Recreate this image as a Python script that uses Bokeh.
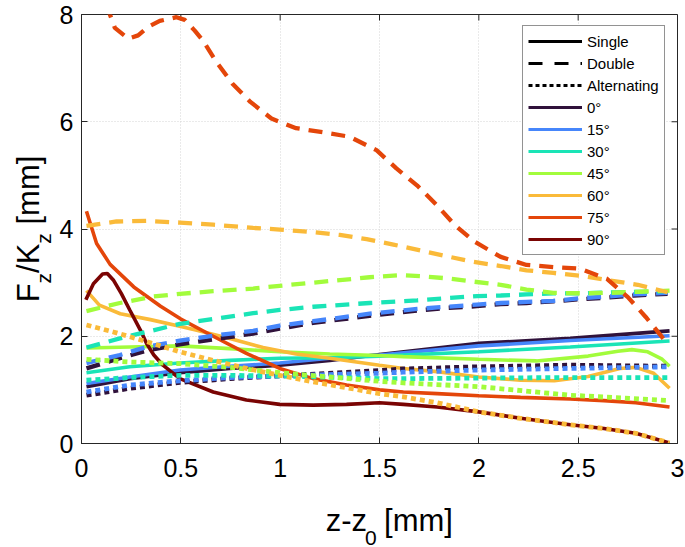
import math
from bokeh.plotting import figure
from bokeh.layouts import row, column
from bokeh.models import Range1d, FixedTicker, Legend, LegendItem
from bokeh.core.properties import value
from bokeh.embed import file_html
from bokeh.resources import INLINE

# ---------------- data ----------------
angles = ["0°", "15°", "30°", "45°", "60°", "75°", "90°"]
colors = ["#30123B", "#4686FB", "#1AE4B6", "#A2FC3C", "#FABA39", "#E4460A", "#7A0403"]
styles = ["Single", "Double", "Alternating"]

x_ticks = [0, 0.5, 1, 1.5, 2, 2.5, 3]
x_tick_labels = ["0", "0.5", "1", "1.5", "2", "2.5", "3"]
y_ticks = [0, 2, 4, 6, 8]
y_tick_labels = ["0", "2", "4", "6", "8"]

# Single (solid)
single_x_low = [0.025, 0.243, 0.495, 0.747, 0.998, 1.25, 1.50, 2.0, 2.46, 2.96]
single_0_y = [1.06, 1.21, 1.32, 1.40, 1.46, 1.55, 1.66, 1.87, 1.96, 2.10]
single_15_y = [1.12, 1.24, 1.37, 1.44, 1.50, 1.59, 1.65, 1.82, 1.92, 2.01]
single_30_y = [1.32, 1.43, 1.50, 1.55, 1.59, 1.60, 1.63, 1.71, 1.80, 1.91]
single_45_x = [0.025, 0.243, 0.495, 0.747, 0.998, 1.25, 1.50, 1.62, 2.0, 2.29, 2.55, 2.70, 2.77, 2.85, 2.92, 2.96]
single_45_y = [1.78, 1.80, 1.82, 1.77, 1.71, 1.67, 1.64, 1.62, 1.57, 1.54, 1.63, 1.72, 1.75, 1.71, 1.58, 1.44]
single_60_x = [0.025, 0.09, 0.195, 0.347, 0.5, 0.58, 0.747, 0.914, 1.08, 1.25, 1.50, 1.62, 1.79, 2.0, 2.21, 2.38, 2.55, 2.71, 2.79, 2.88, 2.96]
single_60_y = [2.85, 2.58, 2.42, 2.31, 2.18, 2.11, 1.96, 1.79, 1.67, 1.59, 1.46, 1.40, 1.34, 1.24, 1.18, 1.17, 1.25, 1.40, 1.42, 1.31, 1.03]
single_75_x = [0.025, 0.076, 0.144, 0.263, 0.398, 0.5, 0.663, 0.83, 0.998, 1.166, 1.334, 1.50, 1.62, 1.79, 2.0, 2.21, 2.46, 2.63, 2.79, 2.96]
single_75_y = [4.33, 3.73, 3.34, 2.92, 2.56, 2.32, 2.00, 1.68, 1.40, 1.21, 1.09, 1.00, 0.96, 0.93, 0.89, 0.86, 0.83, 0.80, 0.76, 0.68]
single_90_x = [0.022, 0.06, 0.106, 0.13, 0.16, 0.2, 0.243, 0.297, 0.327, 0.364, 0.41, 0.495, 0.663, 0.83, 0.998, 1.166, 1.334, 1.50, 1.62, 1.79, 2.0, 2.21, 2.46, 2.63, 2.79, 2.96]
single_90_y = [2.68, 2.98, 3.16, 3.17, 3.05, 2.80, 2.49, 2.11, 1.87, 1.65, 1.46, 1.21, 0.96, 0.81, 0.73, 0.715, 0.73, 0.76, 0.73, 0.68, 0.59, 0.47, 0.35, 0.28, 0.19, 0.01]

# Double (dashed)
double_x_low = [0.025, 0.193, 0.327, 0.495, 0.663, 0.864, 0.998, 1.166, 1.45, 1.69, 1.84, 1.99, 2.11, 2.24, 2.375, 2.51, 2.645, 2.78, 2.95]
double_0_y = [1.40, 1.59, 1.73, 1.85, 1.94, 2.05, 2.14, 2.25, 2.38, 2.48, 2.53, 2.56, 2.60, 2.62, 2.65, 2.69, 2.72, 2.76, 2.79]
double_15_y = [1.50, 1.65, 1.80, 1.92, 2.01, 2.10, 2.20, 2.28, 2.42, 2.51, 2.55, 2.59, 2.62, 2.64, 2.66, 2.71, 2.74, 2.78, 2.81]
double_30_x = [0.025, 0.193, 0.36, 0.495, 0.663, 0.864, 0.998, 1.166, 1.45, 1.69, 1.84, 1.99, 2.11, 2.24, 2.375, 2.53, 2.68, 2.83, 2.95]
double_30_y = [1.79, 1.96, 2.11, 2.23, 2.32, 2.43, 2.49, 2.55, 2.62, 2.67, 2.71, 2.75, 2.76, 2.78, 2.80, 2.80, 2.82, 2.83, 2.84]
double_45_x = [0.025, 0.193, 0.36, 0.495, 0.663, 0.864, 0.998, 1.166, 1.45, 1.6, 1.706, 1.84, 1.97, 2.11, 2.24, 2.375, 2.53, 2.66, 2.81, 2.96]
double_45_y = [2.47, 2.62, 2.74, 2.79, 2.84, 2.89, 2.94, 3.00, 3.10, 3.14, 3.12, 3.08, 3.02, 2.96, 2.87, 2.81, 2.80, 2.81, 2.83, 2.85]
double_60_x = [0.025, 0.176, 0.327, 0.495, 0.663, 0.864, 0.998, 1.166, 1.30, 1.435, 1.57, 1.706, 1.84, 1.97, 2.11, 2.24, 2.375, 2.53, 2.66, 2.80, 2.95]
double_60_y = [4.06, 4.14, 4.15, 4.12, 4.08, 4.02, 3.99, 3.94, 3.89, 3.81, 3.71, 3.60, 3.49, 3.39, 3.31, 3.23, 3.18, 3.12, 3.04, 2.96, 2.82]
double_75_x = [0.05, 0.10, 0.143, 0.168, 0.235, 0.285, 0.336, 0.394, 0.478, 0.52, 0.57, 0.61, 0.68, 0.76, 0.85, 0.956, 1.08, 1.22, 1.35, 1.485, 1.585, 1.69, 1.79, 1.88, 1.98, 2.11, 2.24, 2.375, 2.51, 2.645, 2.75, 2.84, 2.93, 2.96]
double_75_y = [9.0, 8.4, 8.0, 7.75, 7.55, 7.61, 7.77, 7.88, 7.95, 7.90, 7.70, 7.52, 7.11, 6.71, 6.37, 6.06, 5.88, 5.80, 5.72, 5.47, 5.13, 4.81, 4.44, 4.07, 3.76, 3.48, 3.33, 3.29, 3.26, 3.07, 2.73, 2.36, 1.95, 1.88]

# Alternating (dotted)
alt_x_low = [0.025, 0.243, 0.495, 0.747, 0.998, 1.5, 1.62, 2.0, 2.46, 2.96]
alt_0_y = [0.90, 1.03, 1.14, 1.21, 1.26, 1.36, 1.39, 1.43, 1.46, 1.44]
alt_15_y = [0.96, 1.09, 1.17, 1.23, 1.26, 1.31, 1.33, 1.37, 1.40, 1.43]
alt_30_y = [1.18, 1.23, 1.27, 1.27, 1.26, 1.21, 1.21, 1.22, 1.23, 1.23]
alt_45_x = [0.025, 0.243, 0.495, 0.747, 0.998, 1.25, 1.5, 1.62, 2.0, 2.46, 2.96]
alt_45_y = [1.57, 1.52, 1.49, 1.42, 1.32, 1.24, 1.16, 1.13, 1.06, 0.90, 0.80]
alt_60_x = [0.025, 0.16, 0.327, 0.495, 0.663, 0.83, 0.998, 1.166, 1.334, 1.50, 1.62, 1.79, 2.0, 2.21, 2.46, 2.63, 2.79, 2.96]
alt_60_y = [2.21, 2.08, 1.90, 1.71, 1.55, 1.40, 1.27, 1.15, 1.04, 0.93, 0.87, 0.76, 0.59, 0.47, 0.35, 0.28, 0.19, 0.01]

# axis titles: (text, is_subscript, leading space)
x_label_parts = [("z-z", False, False), ("0", True, False), ("[mm]", False, True)]
y_label_parts = [("F", False, False), ("z", True, False), ("/K", False, False), ("z", True, False), ("[mm]", False, True)]

single_curves = [(0, single_x_low, single_0_y), (1, single_x_low, single_15_y),
                 (2, single_x_low, single_30_y), (3, single_45_x, single_45_y),
                 (4, single_60_x, single_60_y), (5, single_75_x, single_75_y),
                 (6, single_90_x, single_90_y)]
double_curves = [(0, double_x_low, double_0_y), (1, double_x_low, double_15_y),
                 (2, double_30_x, double_30_y), (3, double_45_x, double_45_y),
                 (4, double_60_x, double_60_y), (5, double_75_x, double_75_y)]
alt_curves = [(0, alt_x_low, alt_0_y), (1, alt_x_low, alt_15_y), (2, alt_x_low, alt_30_y),
              (3, alt_45_x, alt_45_y), (4, alt_60_x, alt_60_y)]

# ---------------- layout constants (page pixels) ----------------
FONT = "Liberation Sans"
AX = "#262626"
PAGE_W, PAGE_H = 685, 547
LEFT_W = 56                      # width of the y-title strip
FR_L, FR_R, FR_T, FR_B = 81, 677, 14, 443   # plot frame in page pixels
MAIN_H = 500                     # height of main figure
XT_H = PAGE_H - MAIN_H           # height of x-title strip

p = figure(width=PAGE_W - LEFT_W, height=MAIN_H, x_range=Range1d(0, 3), y_range=Range1d(0, 8),
           output_backend="svg", toolbar_location=None,
           min_border_left=FR_L - LEFT_W, min_border_right=PAGE_W - FR_R,
           min_border_top=FR_T, min_border_bottom=MAIN_H - FR_B,
           background_fill_color="white", border_fill_color="white")
p.outline_line_color = AX
p.outline_line_width = 1

for ax, ticks, labels in ((p.xaxis[0], x_ticks, x_tick_labels), (p.yaxis[0], y_ticks, y_tick_labels)):
    ax.ticker = FixedTicker(ticks=ticks)
    ax.major_label_overrides = {t: l for t, l in zip(ticks, labels)}
    ax.major_tick_in = 6
    ax.major_tick_out = 0
    ax.minor_tick_in = 0
    ax.minor_tick_out = 0
    ax.axis_line_color = AX
    ax.major_tick_line_color = AX
    ax.major_label_text_font = FONT
    ax.major_label_text_font_size = "25px"
    ax.major_label_text_color = "#000000"
p.xaxis[0].major_label_standoff = 15
p.yaxis[0].major_label_standoff = 8

p.xgrid.ticker = FixedTicker(ticks=x_ticks)
p.ygrid.ticker = FixedTicker(ticks=y_ticks)
for g in (p.xgrid[0], p.ygrid[0]):
    g.grid_line_color = "#d4d4d4"
    g.grid_line_dash = "1 2"
    g.grid_line_width = 1

# inward ticks on top and right edges (length 6 px converted to data units)
tick_dy = 6 * 8 / (FR_B - FR_T)
tick_dx = 6 * 3 / (FR_R - FR_L)
p.segment(x0=x_ticks, y0=[8] * len(x_ticks), x1=x_ticks, y1=[8 - tick_dy] * len(x_ticks),
          line_color=AX, line_width=1)
p.segment(x0=[3] * len(y_ticks), y0=y_ticks, x1=[3 - tick_dx] * len(y_ticks), y1=y_ticks,
          line_color=AX, line_width=1)

for i, xs, ys in single_curves:
    p.line(xs, ys, line_color=colors[i], line_width=3.6)
for i, xs, ys in double_curves:
    p.line(xs, ys, line_color=colors[i], line_width=4.3, line_dash="14 9")
for i, xs, ys in alt_curves:
    p.line(xs, ys, line_color=colors[i], line_width=4.8, line_dash="5 4")

# legend
nan = float("nan")
items = []
r = p.line([nan], [nan], line_color="black", line_width=3)
items.append(LegendItem(label=styles[0], renderers=[r]))
r = p.line([nan], [nan], line_color="black", line_width=3, line_dash="14 12")
items.append(LegendItem(label=styles[1], renderers=[r]))
r = p.line([nan], [nan], line_color="black", line_width=3, line_dash="4 3")
items.append(LegendItem(label=styles[2], renderers=[r]))
for a, c in zip(angles, colors):
    rr = p.line([nan], [nan], line_color=c, line_width=3)
    items.append(LegendItem(label=a, renderers=[rr]))

legend = Legend(items=items, location=(522 - FR_L, FR_B - 255), border_line_color=AX, border_line_width=1,
                background_fill_color="white", background_fill_alpha=1.0,
                label_text_font=FONT, label_text_font_size="15px", label_text_color="#000000",
                glyph_width=54, glyph_height=20, label_height=20, spacing=2,
                padding=5, label_standoff=5, margin=0)
p.add_layout(legend)

# ---------------- axis titles (separate strips, page-pixel coordinates) ----------------
ADV = {'F': 611, 'z': 500, '/': 278, 'K': 667, ' ': 278, '[': 278, 'm': 833, ']': 278, '-': 333, '0': 556}
MAIN, SUB = 31, 21


def tw(s, size):
    return sum(ADV[ch] for ch in s) * size / 1000.0


def strip(w, h, x0, y0):
    f = figure(width=w, height=h, x_range=Range1d(x0, x0 + w), y_range=Range1d(y0, y0 + h),
               output_backend="svg", toolbar_location=None, min_border=0,
               x_axis_location=None, y_axis_location=None,
               background_fill_color="white", border_fill_color="white")
    f.outline_line_color = None
    f.grid.visible = False
    return f


def part_width(s, sub, space):
    size = SUB if sub else MAIN
    return tw(s, size) + (tw(" ", MAIN) if space else 0)


# x title strip: x in page px, y = PAGE_H - page_y
xt = strip(PAGE_W - LEFT_W, XT_H, LEFT_W, 0)
tot = sum(part_width(*pp) for pp in x_label_parts)
cx = (FR_L + FR_R) / 2 - tot / 2
for s, sub, space in x_label_parts:
    size = SUB if sub else MAIN
    base = 537 if sub else 520
    if space:
        cx += tw(" ", MAIN)
    xt.text(x=[cx], y=[PAGE_H - base], text=[s], text_font=value(FONT),
            text_font_size=value(f"{size}px"), text_baseline="alphabetic",
            text_align="left", text_color="#000000")
    cx += tw(s, size)

# y title strip
yt = strip(LEFT_W, PAGE_H, 0, 0)
tot = sum(part_width(*pp) for pp in y_label_parts)
cy = (PAGE_H - (FR_T + FR_B) / 2) - tot / 2
for s, sub, space in y_label_parts:
    size = SUB if sub else MAIN
    bx = 43 if sub else 28
    if space:
        cy += tw(" ", MAIN)
    yt.text(x=[bx], y=[cy], text=[s], angle=math.pi / 2, text_font=value(FONT),
            text_font_size=value(f"{size}px"), text_baseline="alphabetic",
            text_align="left", text_color="#000000")
    cy += tw(s, size)

layout = row(yt, column(p, xt, spacing=0), spacing=0)
open("out.html", "w").write(file_html(layout, INLINE))
